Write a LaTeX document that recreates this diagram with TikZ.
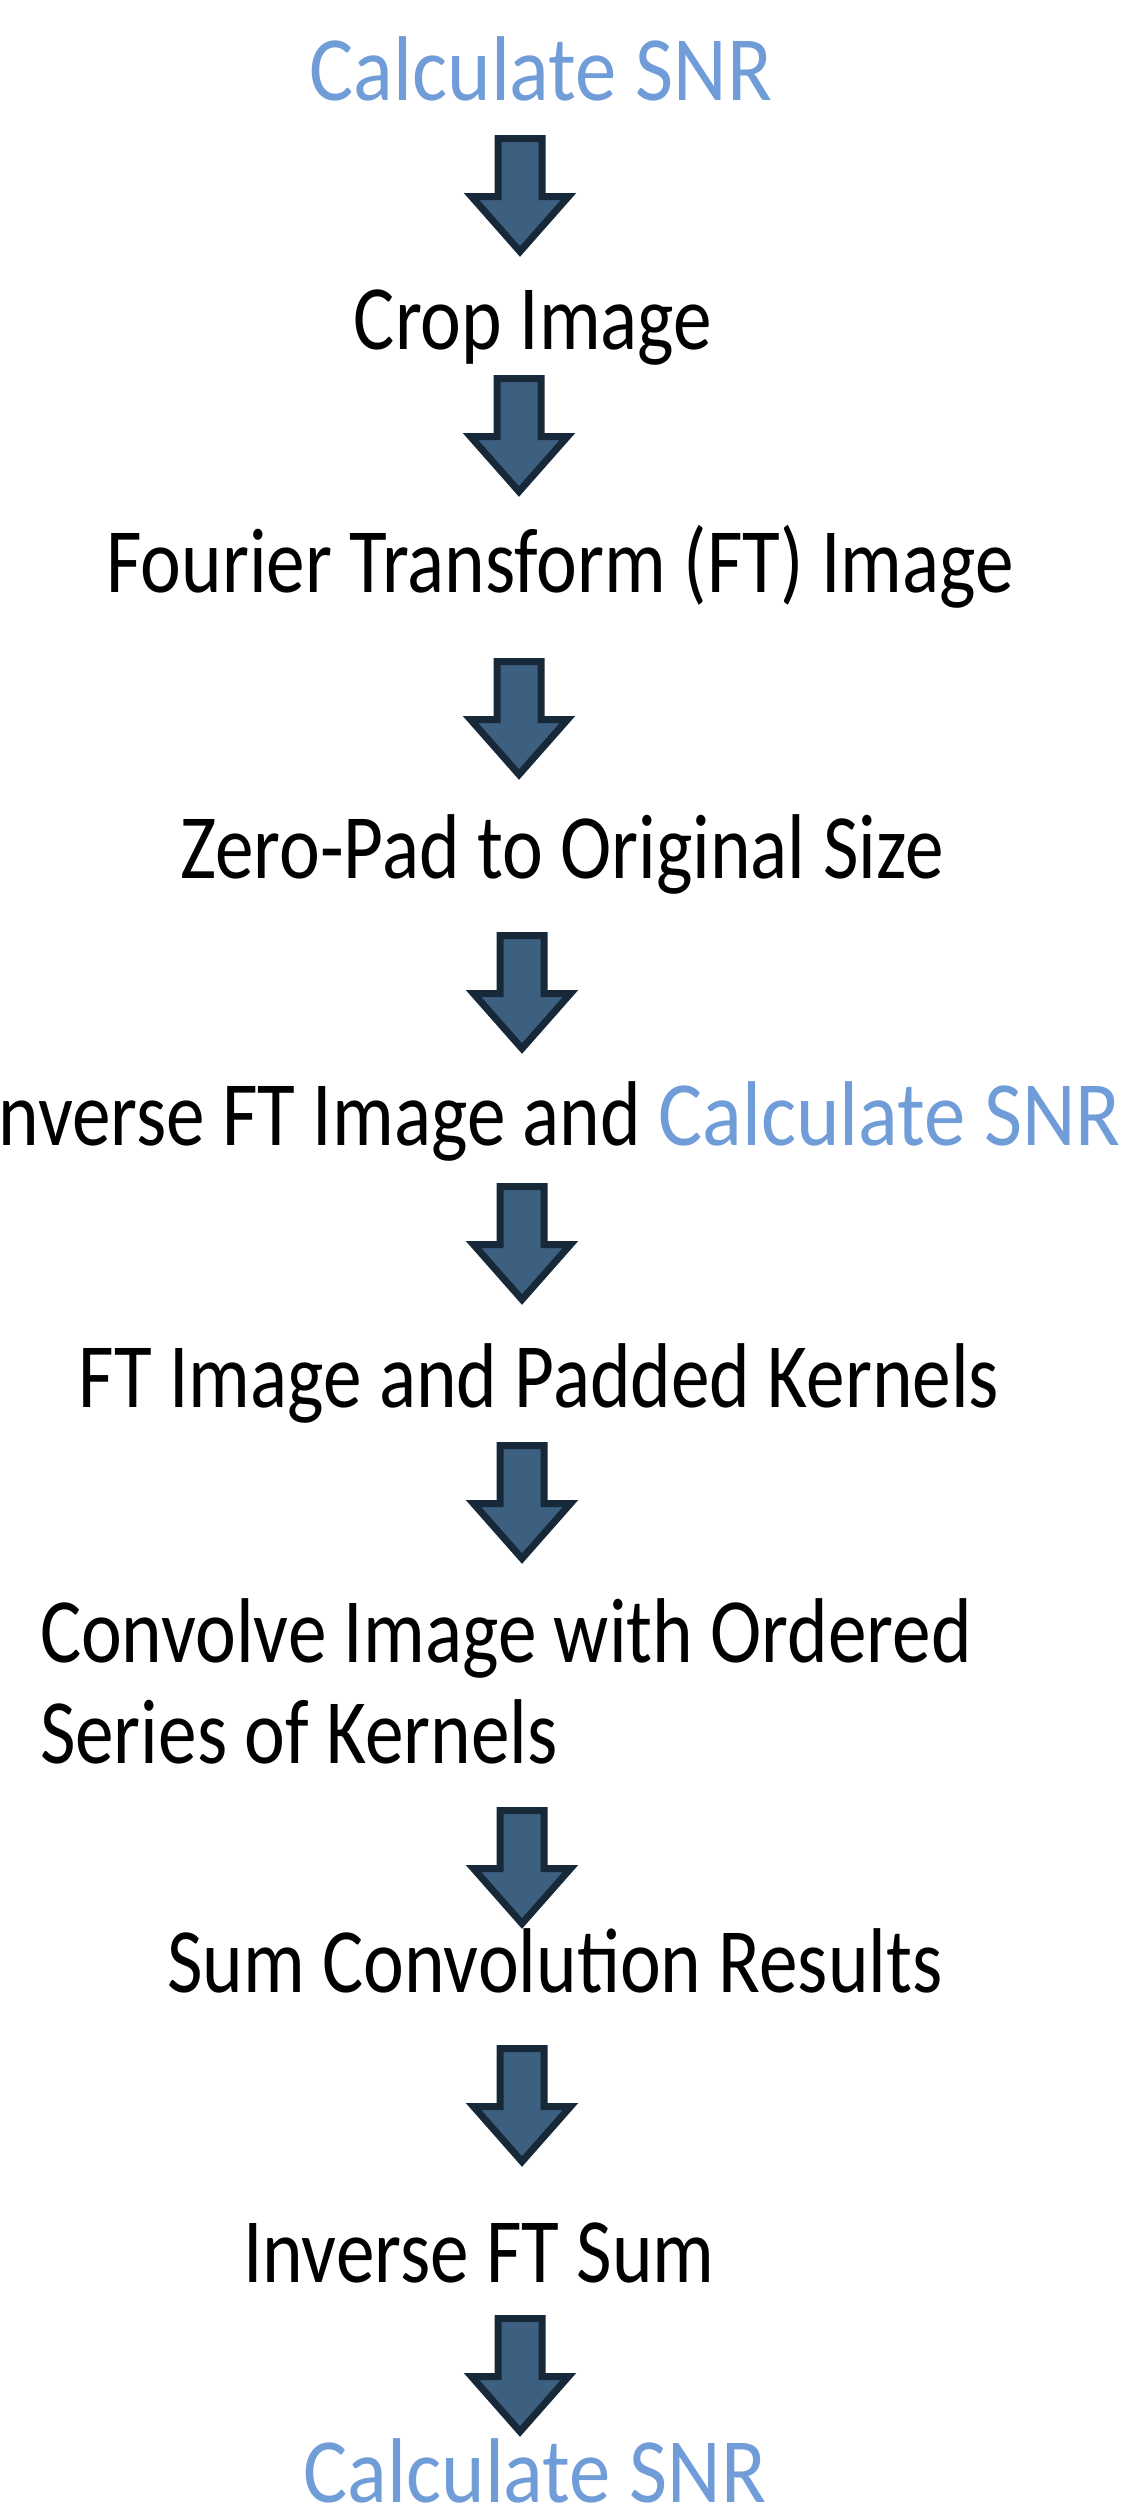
\documentclass[tikz,border=0pt]{standalone}
\usepackage{fontspec}
\setmainfont[FakeStretch=0.84]{Carlito}
\newfontfamily\snrfont[FakeStretch=0.9]{Carlito}
\usepackage{xcolor}
\definecolor{snrblue}{RGB}{112,156,216}
\definecolor{arrowfill}{RGB}{61,95,128}
\definecolor{arrowline}{RGB}{23,40,57}
\newcommand{\snrtext}[1]{{\snrfont\color{snrblue}#1}}
\tikzset{
  stepbox/.style={inner sep=0pt, outer sep=0pt, font=\fontsize{46}{50.5}\selectfont, text=black},
  snrbox/.style={stepbox, font=\fontsize{46}{50.5}\selectfont\snrfont, text=snrblue},
  blockarrow/.style={fill=arrowfill, draw=arrowline, line width=3.5pt, line join=miter},
  downarrow/.pic={
    \draw[blockarrow] (-22,3.5) -- (22,3.5) -- (22,61.5) -- (48.5,61.5)
      -- (0,116.5) -- (-48.5,61.5) -- (-22,61.5) -- cycle;
  }
}
\begin{document}
\begin{tikzpicture}[x=0.5pt, y=-0.5pt]
  % page frame (pixel units, y pointing down)
  \path[use as bounding box] (0,0) rectangle (1125,2511);
  \clip (0,0) rectangle (1125,2511);

  % process steps, placed on their baselines
  \node[snrbox, anchor=base] (snr1) at (541,100) {Calculate SNR};
  \node[stepbox, anchor=base] (crop) at (533,349) {Crop Image};
  \node[stepbox, anchor=base] (ft) at (560,592) {Fourier Transform (FT) Image};
  \node[stepbox, anchor=base] (pad) at (562,878) {Zero-Pad to Original Size};
  \node[stepbox, anchor=base east] (ift) at (1121,1145) {Inverse FT Image and \snrtext{Calculate SNR}};
  \node[stepbox, anchor=base] (ftk) at (539,1407) {FT Image and Padded Kernels};
  \node[stepbox, anchor=base west, align=left] (conv) at (40,1763) {Convolve Image with Ordered\\Series of Kernels};
  \node[stepbox, anchor=base] (sum) at (555,1992) {Sum Convolution Results};
  \node[stepbox, anchor=base] (isum) at (479,2282) {Inverse FT Sum};
  \node[snrbox, anchor=base] (snr2) at (535,2502) {Calculate SNR};

  % block arrows between the steps (top of each arrow)
  \coordinate (a1) at (520,135);
  \coordinate (a2) at (519,375);
  \coordinate (a3) at (519,658);
  \coordinate (a4) at (522,932);
  \coordinate (a5) at (522,1183);
  \coordinate (a6) at (522,1442);
  \coordinate (a7) at (522,1807);
  \coordinate (a8) at (522,2045);
  \coordinate (a9) at (520,2315);
  \foreach \a in {a1,a2,a3,a4,a5,a6,a7,a8,a9} {
    \pic at (\a) {downarrow};
  }
\end{tikzpicture}
\end{document}
